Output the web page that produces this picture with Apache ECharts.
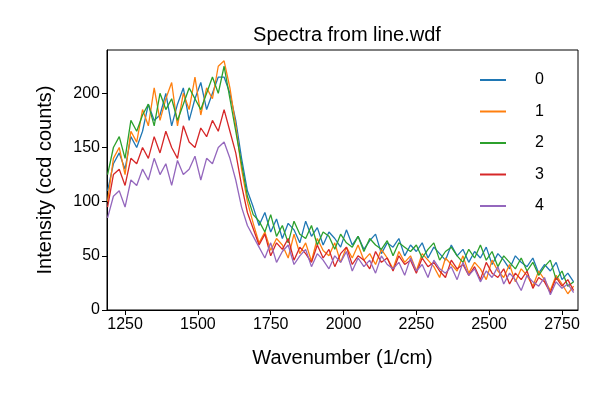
<!DOCTYPE html>
<html>
<head>
<meta charset="utf-8">
<script src="https://cdn.jsdelivr.net/npm/echarts@6/dist/echarts.min.js"></script>
<style>html,body{margin:0;padding:0;background:#fff}#chart{width:600px;height:400px}</style>
</head>
<body>
<div id="chart"></div>
<script>
// wavenumber grid (1/cm)
var wavenumbers = [1190,1210,1230,1250,1270,1290,1310,1330,1350,1370,1390,1410,1430,1450,1470,1490,1510,1530,1550,1570,
  1590,1610,1630,1650,1670,1690,1710,1730,1750,1770,1790,1810,1830,1850,1870,1890,1910,1930,1950,1970,1990,
  2010,2030,2050,2070,2090,2110,2130,2150,2170,2190,2210,2230,2250,2270,2290,2310,2330,2350,2370,2390,
  2410,2430,2450,2470,2490,2510,2530,2550,2570,2590,2610,2630,2650,2670,2690,2710,2730,2750,2770,2790];

var spectrum0 = [110,135,145,130,160,150,
  165,190,175,180,200,170,190,205,175,195,210,185,200,215,
  215,200,175, 140,110,95,
  78,90,72,84,66,80,74,62,82,68,76,60,72,66,58,74,60,68,56,64,70,52,62,58,66,50,60,54,62,48,
  58,52,46,60,50,56,44,54,48,58,42,52,46,38,50,44,40,48,34,42,36,44,28,34,26];
var spectrum1 = [100,140,150,125,165,155,
  185,170,205,175,195,210,170,200,185,215,180,205,195,225,
  230,205,170, 130,100,80,
  62,72,55,66,60,48,70,52,62,45,66,55,50,62,44,58,48,60,46,52,42,56,48,38,54,44,50,36,52,46,
  40,30,48,42,36,50,34,44,38,28,46,36,30,42,26,38,32,22,36,28,18,32,24,15,22];
var spectrum2 = [125,150,160,140,175,165,
  180,190,170,200,185,195,175,190,205,195,185,200,215,200,
  225,195,165, 135,105,88,
  82,72,88,68,78,62,82,70,66,78,60,72,68,56,70,62,58,68,54,66,60,56,64,50,62,58,54,60,48,56,
  62,46,54,58,50,44,56,48,60,46,54,40,50,44,38,48,36,44,32,40,46,28,36,22,26];
var spectrum3 = [95,125,130,115,140,135,
  150,140,160,145,165,150,140,170,155,150,168,160,175,165,
  185,165,145, 115,90,75,
  60,70,50,62,56,66,46,58,52,44,60,48,56,40,52,58,42,50,46,38,54,44,48,36,50,42,46,34,48,40,
  44,36,30,46,38,42,32,40,28,44,34,30,38,24,34,28,36,20,30,26,16,30,22,28,18];
var spectrum4 = [85,105,110,95,120,115,
  130,120,140,125,135,115,138,125,130,142,120,140,135,150,
  155,140,120, 95,78,68,
  58,48,62,44,54,60,42,50,56,40,52,46,38,50,44,54,36,48,40,46,34,50,42,38,44,32,48,36,42,30,
  46,38,34,40,28,44,32,38,26,36,30,40,24,34,28,18,32,26,22,30,14,26,20,24,16];

var seriesNames = ['0','1','2','3','4'];
var seriesColors = ['#1f77b4','#ff7f0e','#2ca02c','#d62728','#9467bd'];
var xTicks = [1250,1500,1750,2000,2250,2500,2750];
var yTicks = [0,50,100,150,200];

var allSpectra = [spectrum0, spectrum1, spectrum2, spectrum3, spectrum4];
var font = 'Liberation Sans, Arial, sans-serif';

function pairs(vals) {
  return wavenumbers.map(function (w, i) { return [w, vals[i]]; });
}

var chart = echarts.init(document.getElementById('chart'));
chart.setOption({
  animation: false,
  title: {
    text: 'Spectra from line.wdf', left: 342, top: 20, textAlign: 'center',
    textStyle: { fontFamily: font, fontSize: 20, fontWeight: 'normal', color: '#000' }
  },
  legend: {
    data: seriesNames, orient: 'vertical', left: 475, top: 67, itemGap: 15.5,
    itemWidth: 26, itemHeight: 14, icon: 'path://M0,6 L26,6 L26,8 L0,8 Z',
    textStyle: { fontFamily: font, fontSize: 16, color: '#000', padding: [0, 0, 0, 24] }
  },
  grid: { left: 107, right: 22, top: 50, bottom: 90, show: true, borderColor: '#000', borderWidth: 1 },
  xAxis: {
    type: 'value', min: 1188, max: 2805,
    name: 'Wavenumber (1/cm)', nameLocation: 'middle', nameGap: 38,
    nameTextStyle: { fontFamily: font, fontSize: 20, color: '#000' },
    axisLine: { show: true, lineStyle: { color: '#000' } },
    axisTick: { show: true, length: 5, customValues: xTicks, lineStyle: { color: '#000' } },
    axisLabel: { customValues: xTicks, formatter: function (v) { return String(v); },
      fontFamily: font, fontSize: 16, color: '#000', margin: 7 },
    splitLine: { show: false }
  },
  yAxis: {
    type: 'value', min: 0, max: 240,
    name: 'Intensity (ccd counts)', nameLocation: 'middle', nameGap: 52,
    nameTextStyle: { fontFamily: font, fontSize: 20, color: '#000' },
    axisLine: { show: true, lineStyle: { color: '#000' } },
    axisTick: { show: true, length: 5, customValues: yTicks, lineStyle: { color: '#000' } },
    axisLabel: { customValues: yTicks, fontFamily: font, fontSize: 16, color: '#000', margin: 7 },
    splitLine: { show: false }
  },
  series: allSpectra.map(function (vals, k) {
    return {
      name: seriesNames[k], type: 'line', data: pairs(vals), showSymbol: false,
      color: seriesColors[k], lineStyle: { width: 1.3 }
    };
  })
});
</script>
</body>
</html>
